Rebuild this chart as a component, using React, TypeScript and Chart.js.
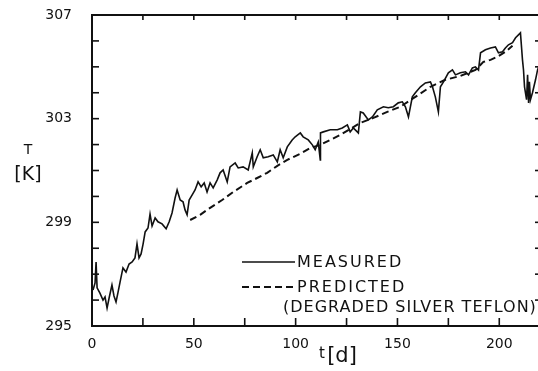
import React, { useEffect, useRef } from "react";
import { Chart, registerables } from "chart.js";

Chart.register(...registerables);

// Measured temperature (days, K)
const measuredDays = [
  0.5, 1.5, 2.0, 2.5, 3.9, 5.4, 6.4, 7.4, 8.4, 9.8, 10.8, 11.8, 12.8, 13.8, 15.2, 16.7, 18.2, 19.7, 21.1, 22.1,
  23.1, 24.1, 25.1, 26.1, 27.5, 28.5, 29.5, 31.0, 32.4, 34.4, 36.4, 37.9, 39.3, 40.8, 41.8, 43.3, 44.7, 45.7, 46.7, 47.7,
  49.2, 50.6, 52.1, 53.6, 55.1, 56.5, 58.0, 59.5, 61.5, 62.9, 64.4, 66.4, 67.8, 70.3, 71.8, 74.2, 76.7, 78.7, 79.2, 81.1,
  82.6, 84.1, 86.5, 89.0, 91.0, 92.4, 93.9, 95.9, 98.3, 99.8, 102.3, 103.7, 106.2, 108.2, 109.6, 111.1, 112.1, 112.2, 113.6, 117.0,
  120.5, 122.9, 125.4, 126.8, 128.3, 130.8, 131.8, 133.2, 135.7, 137.7, 140.1, 143.1, 145.5, 148.0, 150.4, 152.4, 153.9, 155.4, 157.3, 158.8,
  161.3, 163.7, 166.2, 167.2, 168.6, 170.1, 171.1, 172.6, 175.0, 177.0, 178.5, 180.9, 183.4, 184.9, 186.8, 188.3, 189.8, 190.8, 193.2, 195.7,
  198.1, 199.6, 201.6, 203.0, 204.5, 206.5, 208.0, 210.4, 211.4, 211.9, 212.4, 213.4, 213.9, 214.4, 214.8, 215.3, 216.3, 217.8, 218.8, 220.3,
];
const measuredTemp = [
  296.39, 296.66, 297.47, 296.47, 296.27, 296.0, 296.12, 295.69, 296.08, 296.58, 296.16, 295.93, 296.31, 296.7, 297.24, 297.08, 297.39, 297.47, 297.63, 298.17,
  297.63, 297.78, 298.17, 298.63, 298.78, 299.32, 298.86, 299.17, 299.02, 298.94, 298.75, 299.02, 299.36, 299.94, 300.25, 299.86, 299.79, 299.48, 299.29, 299.86,
  300.06, 300.25, 300.56, 300.37, 300.52, 300.17, 300.52, 300.33, 300.64, 300.91, 301.02, 300.56, 301.14, 301.29, 301.1, 301.14, 301.02, 301.68, 301.14, 301.53,
  301.8, 301.49, 301.53, 301.6, 301.33, 301.8, 301.49, 301.91, 302.18, 302.3, 302.45, 302.3, 302.18, 301.99, 301.8, 302.1, 301.41, 302.45, 302.49, 302.57,
  302.57, 302.64, 302.76, 302.49, 302.64, 302.45, 303.26, 303.22, 302.95, 303.07, 303.34, 303.46, 303.42, 303.46, 303.61, 303.65, 303.46, 303.07, 303.84, 304.0,
  304.23, 304.38, 304.42, 304.23, 303.84, 303.26, 304.23, 304.42, 304.77, 304.88, 304.69, 304.77, 304.81, 304.69, 304.96, 305.0, 304.88, 305.54, 305.66, 305.73,
  305.77, 305.54, 305.58, 305.73, 305.85, 305.93, 306.12, 306.31, 305.27, 304.88, 304.23, 303.73, 304.69, 303.61, 304.42, 303.73, 304.0, 304.5, 304.88, 305.19,
];

// Predicted temperature, degraded silver teflon (days, K)
const predictedDays = [
  48.2, 53.1, 58.0, 63.9, 69.3, 76.2, 81.1, 86.0, 91.0, 95.9, 102.3, 107.2, 112.1, 121.9, 131.8, 138.2, 145.0, 151.4, 158.8, 166.2,
  173.5, 180.9, 188.3, 192.2, 195.7, 199.1, 203.0, 206.5,
];
const predictedTemp = [
  299.09, 299.29, 299.56, 299.86, 300.17, 300.52, 300.71, 300.91, 301.18, 301.41, 301.65, 301.87, 301.99, 302.37, 302.84, 303.03, 303.26, 303.46, 303.84, 304.23,
  304.5, 304.65, 304.88, 305.19, 305.27, 305.39, 305.58, 305.81,
];

const yLabelValues = [295, 299, 303, 307];
const xLabelValues = [0, 50, 100, 150, 200];
const legendLines = ["MEASURED", "PREDICTED", "(DEGRADED SILVER TEFLON)"];
const yTitle = ["T", "[K]"];
const xTitle = ["t", "[d]"];

const INK = "#111";

const framePlugin = {
  id: "frame",
  afterDraw(chart: any) {
    const ctx: CanvasRenderingContext2D = chart.ctx;
    const { left, right, top, bottom } = chart.chartArea;
    const x = chart.scales.x;
    const y = chart.scales.y;
    const line = (x1: number, y1: number, x2: number, y2: number) => {
      ctx.beginPath();
      ctx.moveTo(x1, y1);
      ctx.lineTo(x2, y2);
      ctx.stroke();
    };
    ctx.save();
    ctx.strokeStyle = INK;
    ctx.fillStyle = INK;
    ctx.lineWidth = 2;
    ctx.strokeRect(left, top, right - left, bottom - top);
    ctx.lineWidth = 1.6;
    x.ticks.forEach((t: any) => {
      if (t.value % 25 !== 0) return;
      const px = x.getPixelForValue(t.value);
      line(px, bottom, px, bottom - 8);
      line(px, top, px, top + 5);
    });
    y.ticks.forEach((t: any) => {
      const py = y.getPixelForValue(t.value);
      line(left, py, left + 7, py);
      line(right, py, right - 5, py);
    });

    // axis titles
    ctx.textAlign = "center";
    ctx.textBaseline = "middle";
    ctx.font = "14px 'DejaVu Sans'";
    ctx.fillText(yTitle[0], 28, 150);
    ctx.font = "19px 'DejaVu Sans'";
    ctx.fillText(yTitle[1], 28, 175);
    ctx.font = "15px 'DejaVu Sans'";
    ctx.fillText(xTitle[0], 322, 354);
    ctx.font = "21px 'DejaVu Sans'";
    ctx.fillText(xTitle[1], 342, 357);

    // legend
    const ds = chart.data.datasets;
    const lx1 = 242, lx2 = 295;
    const rows = [262, 287];
    ds.forEach((d: any, i: number) => {
      ctx.lineWidth = d.borderWidth;
      ctx.setLineDash(d.borderDash || []);
      line(lx1, rows[i], lx2, rows[i]);
    });
    ctx.setLineDash([]);
    ctx.textAlign = "left";
    ctx.font = "16px 'DejaVu Sans'";
    (ctx as any).letterSpacing = "2px";
    ctx.fillText(legendLines[0], 297, rows[0] + 1);
    ctx.fillText(legendLines[1], 297, rows[1] + 1);
    (ctx as any).letterSpacing = "1px";
    ctx.fillText(legendLines[2], 283, 308);
    (ctx as any).letterSpacing = "0px";
    ctx.restore();
  },
};

export default function App() {
  const ref = useRef<HTMLCanvasElement | null>(null);
  useEffect(() => {
    if (!ref.current) return;
    const chart = new Chart(ref.current, {
      type: "line",
      data: {
        datasets: [
          {
            label: legendLines[0],
            data: measuredDays.map((d, i) => ({ x: d, y: measuredTemp[i] })),
            borderColor: INK,
            borderWidth: 1.6,
            pointRadius: 0,
            tension: 0,
          },
          {
            label: legendLines[1],
            data: predictedDays.map((d, i) => ({ x: d, y: predictedTemp[i] })),
            borderColor: INK,
            borderWidth: 2,
            borderDash: [7, 4],
            pointRadius: 0,
            tension: 0,
          },
        ],
      },
      options: {
        animation: false,
        responsive: false,
        maintainAspectRatio: false,
        layout: { padding: { left: 0, top: 15, right: 8, bottom: 0 } },
        plugins: { legend: { display: false }, tooltip: { enabled: false }, title: { display: false } },
        scales: {
          x: {
            type: "linear",
            min: 0,
            max: 220,
            grid: { display: false, drawTicks: false },
            border: { display: false },
            ticks: {
              stepSize: 25,
              padding: 10,
              color: INK,
              maxRotation: 0,
              autoSkip: false,
              font: { family: "DejaVu Sans", size: 14 },
              callback: (v: any) => (xLabelValues.includes(Number(v)) ? String(v) : ""),
            },
            afterFit: (s: any) => {
              s.height = 45;
              s.paddingLeft = 0;
              s.paddingRight = 0;
            },
          },
          y: {
            type: "linear",
            min: 295,
            max: 307,
            grid: { display: false, drawTicks: false },
            border: { display: false },
            ticks: {
              stepSize: 1,
              padding: 20,
              color: INK,
              autoSkip: false,
              font: { family: "DejaVu Sans", size: 14 },
              callback: (v: any) => (yLabelValues.includes(Number(v)) ? String(v) : ""),
            },
            afterFit: (s: any) => {
              s.width = 92;
              s.paddingTop = 0;
              s.paddingBottom = 0;
            },
          },
        },
      },
      plugins: [framePlugin],
    });
    return () => chart.destroy();
  }, []);
  return (
    <div style={{ position: "fixed", left: 0, top: 0, width: 538, height: 371, overflow: "hidden", background: "#fff" }}>
      <canvas ref={ref} width={548} height={371} style={{ display: "block" }} />
    </div>
  );
}
